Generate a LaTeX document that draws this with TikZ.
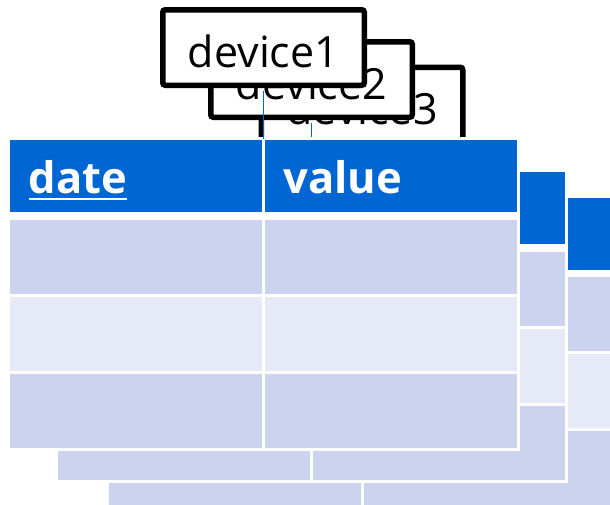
\documentclass[tikz,border=0pt]{standalone}
\usepackage{fontspec}
\setmainfont{Open Sans}
\usepackage{tikz}
\usetikzlibrary{positioning}
\definecolor{hdblue}{RGB}{0,102,212}
\definecolor{banddark}{RGB}{204,211,238}
\definecolor{bandlight}{RGB}{230,233,246}
\newsavebox{\keybox}
\newcommand{\keyfield}[1]{\sbox{\keybox}{#1}\rlap{\rule[-7pt]{\wd\keybox}{2.5pt}}\usebox{\keybox}}
\tikzstyle{cell}=[draw=white,line width=3pt,inner sep=0pt,outer sep=0pt,minimum width=255pt,minimum height=77pt,anchor=north west]
\tikzstyle{hcell}=[cell,fill=hdblue,text=white,font=\fontsize{43.5}{50}\selectfont\bfseries,minimum height=75pt,text width=215pt,inner xsep=20pt,align=left,text height=34pt,text depth=0pt]
\tikzstyle{rowdark}=[cell,fill=banddark]
\tikzstyle{rowlight}=[cell,fill=bandlight]
\tikzstyle{devbox}=[draw=black,fill=white,line width=5.5pt,rounded corners=2.5pt,minimum width=201.5pt,minimum height=75.5pt,inner sep=0pt,font=\fontsize{43}{50}\selectfont,text height=39pt,text depth=0pt]
\tikzstyle{link}=[draw=hdblue,line width=1pt,shorten <=2.75pt]
\newcommand{\devicegroup}[4]{%
\begin{scope}[shift={(#2,#3)}]
	\fill[white] (7,137) rectangle (520,451);
	\node[hcell] (date#1) at (8.5,138.5) {\keyfield{date}};
	\node[hcell,right=0pt of date#1] (value#1) {value};
	\node[rowdark] (ra#1) at (8.5,218) {};
	\node[rowdark,right=0pt of ra#1] (rb#1) {};
	\node[rowlight,below=0pt of ra#1] (sa#1) {};
	\node[rowlight,below=0pt of rb#1] (sb#1) {};
	\node[rowdark,below=0pt of sa#1] (ta#1) {};
	\node[rowdark,below=0pt of sb#1] (tb#1) {};
	\node[devbox] (dev#1) at (263.5,47.5) {#4};
	\draw[link] (dev#1.south) -- (date#1.north east);
\end{scope}}
\begin{document}
\begin{tikzpicture}[x=1pt,y=-1pt]
	\useasboundingbox (0,0) rectangle (610,504);
	\devicegroup{3}{98.5}{57.5}{device3}
	\devicegroup{2}{48}{32}{device2}
	\devicegroup{1}{0}{0}{device1}
\end{tikzpicture}
\end{document}
